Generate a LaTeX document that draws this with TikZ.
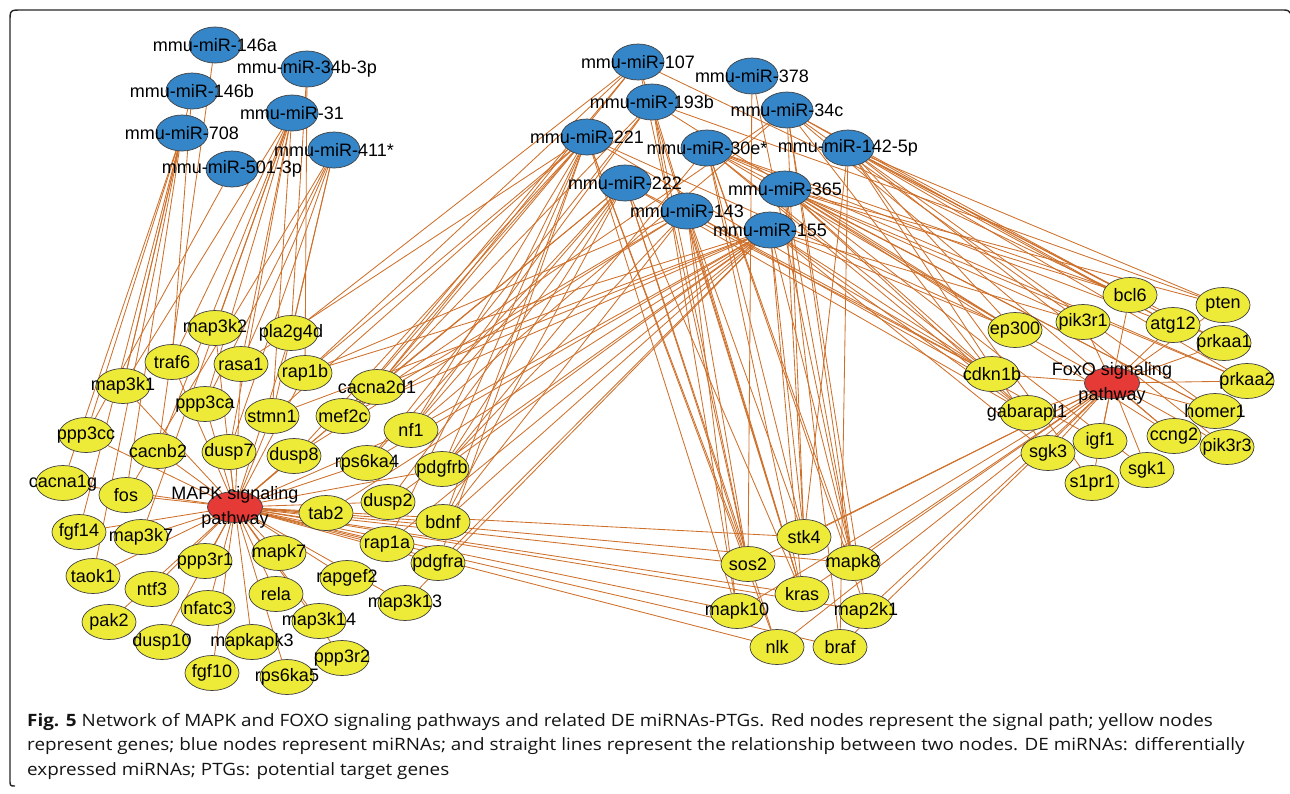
\documentclass[tikz,border=0pt]{standalone}
\usepackage{fontspec}
\setmainfont{Liberation Sans}
\newfontfamily\capfont[FakeStretch=1.11]{Open Sans}
\usetikzlibrary{shapes.geometric,backgrounds}
\definecolor{mirblue}{RGB}{52,134,201}
\definecolor{geneyellow}{RGB}{238,234,56}
\definecolor{pathred}{RGB}{229,58,54}
\definecolor{edgeorange}{RGB}{206,112,42}
\tikzset{
 nodebase/.style={ellipse, draw=black!75, line width=0.7pt, inner sep=0pt, minimum width=54pt, minimum height=35pt},
 mirna/.style={nodebase, fill=mirblue, minimum width=52pt, minimum height=36pt},
 gene/.style={nodebase, fill=geneyellow},
 pway/.style={nodebase, fill=pathred, minimum width=55pt, minimum height=31pt},
 lbl/.style={font=\fontsize{18}{25}\selectfont, inner sep=0pt, text=black},
 link/.style={draw=edgeorange, line width=0.85pt},
 boxline/.style={draw=black!85, line width=1.4pt},
 captxt/.style={anchor=base west, inner sep=0pt, font=\capfont\fontsize{17}{24}\selectfont, text=black!92}
}
\newcommand\mknode[4]{\node[#1,label={[lbl]center:#4}] (#2) at (#3) {};}
\begin{document}
\begin{tikzpicture}[x=1pt,y=-1pt]
\useasboundingbox (0,0) rectangle (1290,793);
% left miRNAs
\mknode{mirna}{ma146a}{215,45}{mmu-miR-146a}
\mknode{mirna}{ma34b}{307,69}{mmu-miR-34b-3p}
\mknode{mirna}{ma146b}{192,91}{mmu-miR-146b}
\mknode{mirna}{ma31}{292,113}{mmu-miR-31}
\mknode{mirna}{ma708}{182,133}{mmu-miR-708}
\mknode{mirna}{ma411}{334,150}{mmu-miR-411*}
\mknode{mirna}{ma501}{232,169}{mmu-miR-501-3p}
% right miRNAs
\mknode{mirna}{m107}{638,62}{mmu-miR-107}
\mknode{mirna}{m378}{752,76}{mmu-miR-378}
\mknode{mirna}{m193b}{652,102}{mmu-miR-193b}
\mknode{mirna}{m34c}{787,110}{mmu-miR-34c}
\mknode{mirna}{m221}{587,137}{mmu-miR-221}
\mknode{mirna}{m30e}{707,148}{mmu-miR-30e*}
\mknode{mirna}{m142}{848,148}{mmu-miR-142-5p}
\mknode{mirna}{m222}{625,183}{mmu-miR-222}
\mknode{mirna}{m365}{785,189}{mmu-miR-365}
\mknode{mirna}{m143}{687,211}{mmu-miR-143}
\mknode{mirna}{m155}{770,230}{mmu-miR-155}
% pathways
\node[pway,label={[lbl,align=center]center:MAPK signaling\\pathway}] (MAPK) at (235,507) {};
\node[pway,label={[lbl,align=center]center:FoxO signaling\\pathway}] (FOXO) at (1112,383) {};
% MAPK genes
\mknode{gene}{map3k2}{215,328}{map3k2}
\mknode{gene}{pla2g4d}{291,333}{pla2g4d}
\mknode{gene}{traf6}{172,362}{traf6}
\mknode{gene}{rasa1}{241,364}{rasa1}
\mknode{gene}{rap1b}{305,373}{rap1b}
\mknode{gene}{map3k1}{123,386}{map3k1}
\mknode{gene}{cacna2d1}{377,387}{cacna2d1}
\mknode{gene}{ppp3ca}{205,404}{ppp3ca}
\mknode{gene}{stmn1}{272,416}{stmn1}
\mknode{gene}{mef2c}{343,416}{mef2c}
\mknode{gene}{nf1}{411,430}{nf1}
\mknode{gene}{ppp3cc}{86,435}{ppp3cc}
\mknode{gene}{cacnb2}{158,451}{cacnb2}
\mknode{gene}{dusp7}{229,452}{dusp7}
\mknode{gene}{dusp8}{294,456}{dusp8}
\mknode{gene}{rps6ka4}{367,463}{rps6ka4}
\mknode{gene}{pdgfrb}{442,469}{pdgfrb}
\mknode{gene}{cacna1g}{63,483}{cacna1g}
\mknode{gene}{fos}{126,495}{fos}
\mknode{gene}{dusp2}{388,502}{dusp2}
\mknode{gene}{tab2}{326,513}{tab2}
\mknode{gene}{bdnf}{443,522}{bdnf}
\mknode{gene}{fgf14}{79,532}{fgf14}
\mknode{gene}{map3k7}{141,537}{map3k7}
\mknode{gene}{rap1a}{387,544}{rap1a}
\mknode{gene}{mapk7}{279,553}{mapk7}
\mknode{gene}{pdgfra}{438,563}{pdgfra}
\mknode{gene}{ppp3r1}{205,561}{ppp3r1}
\mknode{gene}{taok1}{93,576}{taok1}
\mknode{gene}{rapgef2}{347,578}{rapgef2}
\mknode{gene}{ntf3}{152,589}{ntf3}
\mknode{gene}{rela}{276,594}{rela}
\mknode{gene}{map3k13}{405,603}{map3k13}
\mknode{gene}{nfatc3}{208,608}{nfatc3}
\mknode{gene}{pak2}{109,622}{pak2}
\mknode{gene}{map3k14}{319,621}{map3k14}
\mknode{gene}{dusp10}{162,642}{dusp10}
\mknode{gene}{mapkapk3}{252,642}{mapkapk3}
\mknode{gene}{ppp3r2}{342,658}{ppp3r2}
\mknode{gene}{fgf10}{212,673}{fgf10}
\mknode{gene}{rps6ka5}{287,677}{rps6ka5}
% shared genes
\mknode{gene}{stk4}{804,537}{stk4}
\mknode{gene}{sos2}{748,564}{sos2}
\mknode{gene}{mapk8}{853,563}{mapk8}
\mknode{gene}{kras}{802,594}{kras}
\mknode{gene}{mapk10}{737,611}{mapk10}
\mknode{gene}{map2k1}{866,611}{map2k1}
\mknode{gene}{nlk}{777,647}{nlk}
\mknode{gene}{braf}{840,647}{braf}
% FoxO genes
\mknode{gene}{bcl6}{1130,295}{bcl6}
\mknode{gene}{pten}{1223,305}{pten}
\mknode{gene}{pik3r1}{1083,322}{pik3r1}
\mknode{gene}{atg12}{1173,325}{atg12}
\mknode{gene}{ep300}{1015,330}{ep300}
\mknode{gene}{prkaa1}{1224,343}{prkaa1}
\mknode{gene}{cdkn1b}{992,374}{cdkn1b}
\mknode{gene}{prkaa2}{1247,381}{prkaa2}
\mknode{gene}{homer1}{1215,411}{homer1}
\mknode{gene}{gabarapl1}{1027,413}{gabarapl1}
\mknode{gene}{igf1}{1100,441}{igf1}
\mknode{gene}{ccng2}{1174,436}{ccng2}
\mknode{gene}{pik3r3}{1227,447}{pik3r3}
\mknode{gene}{sgk3}{1048,453}{sgk3}
\mknode{gene}{sgk1}{1147,470}{sgk1}
\mknode{gene}{s1pr1}{1092,483}{s1pr1}
% edges
\begin{pgfonlayer}{background}
\foreach \g in {map3k2,pla2g4d,traf6,rasa1,rap1b,map3k1,cacna2d1,ppp3ca,stmn1,mef2c,nf1,ppp3cc,cacnb2,dusp7,dusp8,rps6ka4,pdgfrb,cacna1g,fos,dusp2,tab2,bdnf,fgf14,map3k7,rap1a,mapk7,pdgfra,ppp3r1,taok1,rapgef2,ntf3,rela,map3k13,nfatc3,pak2,map3k14,dusp10,mapkapk3,ppp3r2,fgf10,rps6ka5,stk4,sos2,mapk8,kras,mapk10,map2k1,nlk,braf}
  \draw[link] (MAPK) -- (\g);
\foreach \g in {bcl6,pten,pik3r1,atg12,ep300,prkaa1,cdkn1b,prkaa2,homer1,gabarapl1,igf1,ccng2,pik3r3,sgk3,sgk1,s1pr1,stk4,sos2,mapk8,kras,mapk10,map2k1,nlk,braf}
  \draw[link] (FOXO) -- (\g);
\foreach \m/\gl in {
  ma146a/{cacnb2},
  ma146b/{map3k1,traf6},
  ma708/{ppp3cc,cacna1g,fgf14,taok1,map3k1,fos},
  ma501/{ppp3cc},
  ma31/{traf6,map3k2,rasa1,ppp3ca,cacnb2,map3k1,map3k7,dusp7,stmn1},
  ma34b/{pla2g4d,rap1b},
  ma411/{pla2g4d,rasa1,ppp3ca,stmn1,dusp7,fos},
  m107/{rap1b,pla2g4d,cacna2d1,mef2c,sos2,kras,prkaa1},
  m193b/{cacna2d1,nf1,rps6ka4,sos2,mapk10,kras,ep300,pten},
  m221/{rap1b,rasa1,stmn1,cacna2d1,mef2c,dusp8,nf1,pdgfrb,bdnf,pdgfra,rap1a,sos2,mapk10,nlk,cdkn1b,ep300},
  m222/{cacna2d1,mef2c,rps6ka4,nf1,dusp2,pdgfrb,bdnf,sos2,nlk,kras,cdkn1b,gabarapl1},
  m143/{mef2c,rap1b,dusp8,pdgfrb,bdnf,kras,sos2,mapk10,stk4,cdkn1b,igf1},
  m155/{rap1b,cacna2d1,mef2c,stmn1,nf1,rps6ka4,dusp2,tab2,pdgfrb,bdnf,pdgfra,rap1a,map3k13,stk4,mapk8,kras,ep300,cdkn1b,gabarapl1,sgk3,pik3r1},
  m30e/{stk4,mapk8,kras,map2k1,ep300,cdkn1b,gabarapl1,atg12,bcl6,prkaa2,homer1,pdgfrb},
  m378/{mapk8,sos2},
  m34c/{stk4,mapk8,nf1,cdkn1b,bcl6,pik3r1,atg12,ccng2,map2k1,mef2c},
  m142/{pten,bcl6,atg12,prkaa1,prkaa2,homer1,pik3r3,ep300,stk4,braf,sgk3,s1pr1},
  m365/{pten,bcl6,prkaa2,pik3r1,homer1,ccng2,ep300,mapk8,stk4,braf,sgk1,cdkn1b,gabarapl1}}
  {\foreach \g in \gl \draw[link] (\m) -- (\g);}
\end{pgfonlayer}
% frame
\draw[boxline] (15,786) .. controls (10,786) .. (10,779) -- (10,22) .. controls (10,10) .. (22,10) -- (1282,10) .. controls (1288,10) .. (1291,14);
% caption
\node[captxt] (c1) at (27,726) {\textbf{Fig. 5} Network of MAPK and FOXO signaling pathways and related DE miRNAs-PTGs. Red nodes represent the signal path; yellow nodes};
\node[captxt] (c2) at (27,750) {represent genes; blue nodes represent miRNAs; and straight lines represent the relationship between two nodes. DE miRNAs: differentially};
\node[captxt] (c3) at (27,775) {expressed miRNAs; PTGs: potential target genes};
\end{tikzpicture}
\end{document}
